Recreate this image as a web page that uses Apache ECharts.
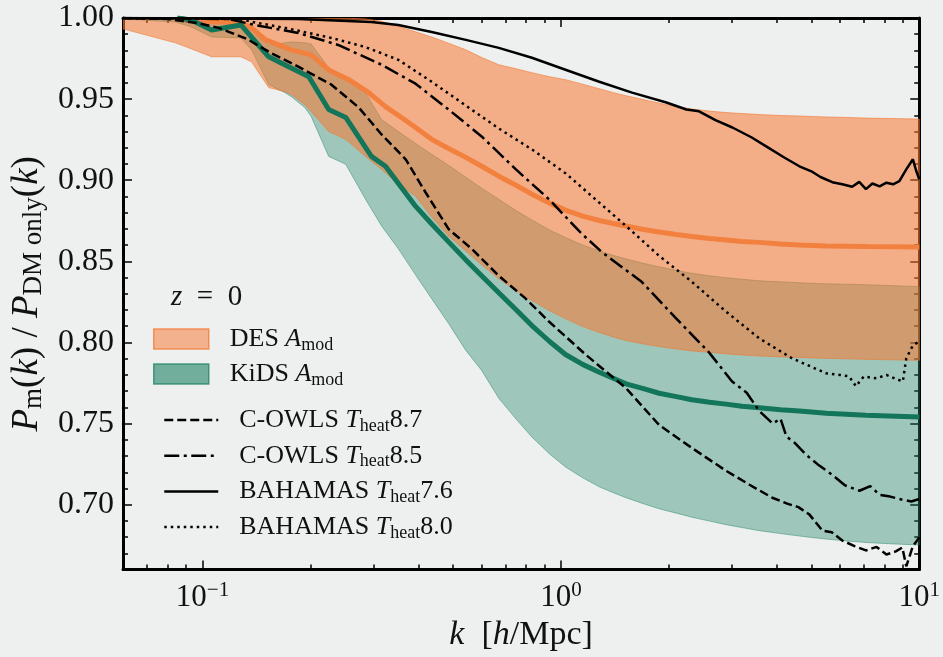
<!DOCTYPE html>
<html>
<head>
<meta charset="utf-8">
<script src="https://cdn.jsdelivr.net/npm/echarts@6/dist/echarts.min.js"></script>
<style>
html, body { margin: 0; padding: 0; background: #eef0ef; }
#chart { width: 943px; height: 657px; }
</style>
</head>
<body>
<div id="chart"></div>
<script>
// k grid shared by the two emulator bands
var kBand = [0.06, 0.084, 0.093, 0.106, 0.128, 0.137, 0.153, 0.17, 0.177, 0.193, 0.201, 0.225, 0.251,
  0.285, 0.316, 0.352, 0.393, 0.436, 0.486, 0.543, 0.601,
  0.671, 0.75, 0.83, 0.93, 1.03, 1.15, 1.28, 1.4, 1.52, 1.7, 1.88, 2.1, 2.32, 2.6, 2.89, 3.2, 3.58,
  4.1, 4.63, 5.0, 5.5, 6.3, 7.1, 8.5, 10];
var desHi = [1.0, 1.0, 1.0, 1.0, 1.0, 1.0, 1.0, 1.0, 1.0, 1.0, 1.0, 1.0, 1.0,
  0.9994, 0.998, 0.9948, 0.9915, 0.9883, 0.9845, 0.9804, 0.9757,
  0.9712, 0.9687, 0.9663, 0.9638, 0.962, 0.9592, 0.9564, 0.954, 0.9521, 0.9497, 0.9475, 0.9454, 0.9439,
  0.9426, 0.9417, 0.9411, 0.9405, 0.9399, 0.9396, 0.9393, 0.939, 0.9387, 0.9383, 0.938, 0.9377];
var desLo = [0.9933, 0.9847, 0.981, 0.9761, 0.9761, 0.973, 0.9571, 0.9546, 0.9528, 0.9466, 0.9423, 0.930, 0.9252,
  0.9147, 0.9067, 0.8975, 0.8902, 0.8773, 0.8656, 0.8564, 0.8479,
  0.8393, 0.832, 0.8258, 0.8196, 0.8147, 0.8098, 0.8061, 0.8034, 0.8012, 0.7991, 0.7975, 0.796, 0.7948,
  0.7939, 0.793, 0.7923, 0.7917, 0.7911, 0.7908, 0.7905, 0.7902, 0.7899, 0.7896, 0.7893, 0.789];
var kidsHi = [1.0, 1.0, 0.9988, 0.9982, 0.9975, 0.9926, 0.9834, 0.9847, 0.9853, 0.9847, 0.984, 0.9693, 0.9632,
  0.954, 0.9374, 0.93, 0.9227, 0.916, 0.9092, 0.9018, 0.8951,
  0.8883, 0.8813, 0.8755, 0.8693, 0.8647, 0.8601, 0.8564, 0.8537, 0.8515, 0.8488, 0.8466, 0.8445, 0.8426,
  0.8411, 0.8399, 0.839, 0.838, 0.8374, 0.8368, 0.8365, 0.8362, 0.8359, 0.8356, 0.835, 0.8344];
var kidsLo = [0.9994, 0.9975, 0.9945, 0.9883, 0.9877, 0.9804, 0.9589, 0.954, 0.9515, 0.9448, 0.9393, 0.9147, 0.9098,
  0.8883, 0.8718, 0.8577, 0.8417, 0.827, 0.8117, 0.7951, 0.7828,
  0.7656, 0.7528, 0.7417, 0.7313, 0.7233, 0.7166, 0.711, 0.7074, 0.7043, 0.7006, 0.6975, 0.6948, 0.6923,
  0.6899, 0.6877, 0.6859, 0.684, 0.6822, 0.6807, 0.6798, 0.6788, 0.6776, 0.6767, 0.6758, 0.6752];

// band means
var kDesMean = [0.085, 0.093, 0.128, 0.137, 0.15, 0.177, 0.201, 0.225, 0.256, 0.291, 0.324, 0.359,
  0.393, 0.436, 0.486, 0.543, 0.601, 0.671, 0.75, 0.83, 0.93, 1.03, 1.15, 1.28, 1.4, 1.52, 1.7, 1.88,
  2.1, 2.32, 2.6, 2.89, 3.2, 3.58, 4.1, 4.63, 5.5, 7.1, 10];
var desMean = [1.0, 0.9985, 0.997, 0.9939, 0.9865, 0.9804, 0.9773, 0.968, 0.962, 0.954, 0.9454, 0.9387,
  0.9325, 0.9252, 0.9196, 0.9141, 0.9086, 0.9025, 0.8969, 0.8914, 0.8859, 0.8816, 0.8779, 0.8752, 0.8733,
  0.8718, 0.8696, 0.8681, 0.8666, 0.8653, 0.8641, 0.8632, 0.8623, 0.8617, 0.8607, 0.8601, 0.8595, 0.8592, 0.8589];
var kKidsMean = [0.085, 0.093, 0.106, 0.128, 0.153, 0.174, 0.198, 0.225, 0.251, 0.296, 0.324, 0.393,
  0.436, 0.486, 0.543, 0.601, 0.671, 0.75, 0.83, 0.93, 1.03, 1.15, 1.28, 1.4, 1.52, 1.7, 1.88, 2.1, 2.32,
  2.6, 2.89, 3.2, 3.58, 4.1, 4.63, 5.5, 7.1, 10];
var kidsMean = [1.0, 0.9988, 0.9926, 0.9957, 0.9761, 0.970, 0.9638, 0.9436, 0.9387, 0.9147, 0.9086, 0.884,
  0.873, 0.862, 0.8509, 0.8411, 0.8307, 0.8202, 0.8104, 0.8006, 0.7926, 0.7865, 0.7816, 0.7779, 0.7745,
  0.7715, 0.7687, 0.7666, 0.7647, 0.7632, 0.762, 0.7607, 0.7598, 0.7586, 0.7577, 0.7564, 0.7552, 0.754];

// simulations
var kCowls87 = [0.06, 0.08, 0.097, 0.111, 0.133, 0.155, 0.185, 0.229, 0.273, 0.316, 0.369, 0.419, 0.486, 0.564,
  0.671, 0.798, 0.926, 1.18, 1.52, 1.88, 2.32, 2.89, 3.36, 3.89, 4.3, 4.6, 4.94, 5.37, 5.7, 6.1, 6.6, 7.1,
  7.6, 8.1, 8.6, 8.97, 9.2, 9.6, 10];
var cowls87 = [1.0, 0.9994, 0.9969, 0.9939, 0.9871, 0.9785, 0.970, 0.9589, 0.9448, 0.9282, 0.9129, 0.8926, 0.8699,
  0.8577, 0.8411, 0.827, 0.8129, 0.792, 0.7718, 0.7491, 0.735, 0.7209, 0.7123, 0.7043, 0.7005, 0.6985, 0.6939,
  0.684, 0.6830, 0.6779, 0.6745, 0.6718, 0.6740, 0.6693, 0.6712, 0.6736, 0.6620, 0.6745, 0.6798];
var kCowls85 = [0.06, 0.118, 0.14, 0.185, 0.239, 0.316, 0.393, 0.486, 0.601, 0.749, 0.926, 1.145, 1.3, 1.68,
  2.1, 2.59, 3.0, 3.3, 3.58, 3.9, 4.1, 4.26, 4.5, 4.84, 5.2, 5.72, 6.2, 6.81, 7.3, 7.75, 8.3, 8.97, 9.5, 10];
var cowls85 = [1.0, 0.9994, 0.9957, 0.9908, 0.9834, 0.9712, 0.9595, 0.9436, 0.927, 0.9067, 0.8883, 0.8669, 0.8558,
  0.8374, 0.8147, 0.7939, 0.7761, 0.7690, 0.7577, 0.7500, 0.7530, 0.7420, 0.7380, 0.7307, 0.7250, 0.7184,
  0.7120, 0.7086, 0.7115, 0.7061, 0.7050, 0.7031, 0.7020, 0.7035];
var kBah76 = [0.06, 0.185, 0.296, 0.352, 0.436, 0.543, 0.671, 0.83, 1.03, 1.28, 1.58, 1.97, 2.24, 2.43, 2.7, 3.01,
  3.4, 3.74, 4.2, 4.63, 5.0, 5.3, 5.72, 6.1, 6.5, 6.8, 7.1, 7.4, 7.75, 8.1, 8.45, 8.8, 9.2, 9.6, 9.8, 10];
var bah76 = [1.0, 0.9994, 0.9975, 0.9957, 0.9914, 0.9865, 0.9816, 0.9755, 0.9681, 0.9607, 0.954, 0.9479, 0.9436,
  0.9425, 0.937, 0.9325, 0.9265, 0.9209, 0.9140, 0.9086, 0.9055, 0.9020, 0.8988, 0.8975, 0.8960, 0.8990, 0.8945,
  0.8980, 0.8962, 0.8985, 0.8975, 0.8995, 0.9067, 0.9129, 0.9060, 0.9006];
var kBah80 = [0.06, 0.126, 0.143, 0.17, 0.229, 0.284, 0.352, 0.436, 0.543, 0.671, 0.83, 1.03, 1.22, 1.52, 1.88,
  2.32, 2.89, 3.58, 4.42, 5.5, 6.0, 6.37, 6.66, 7.0, 7.6, 8.1, 8.66, 9.0, 9.2, 9.6, 10];
var bah80 = [1.0, 0.9994, 0.9969, 0.9939, 0.9877, 0.9822, 0.9742, 0.9607, 0.946, 0.9319, 0.919, 0.9043, 0.8902,
  0.8718, 0.8534, 0.8374, 0.819, 0.8025, 0.7902, 0.781, 0.7800, 0.7791, 0.7730, 0.7790, 0.7779, 0.7800, 0.7773,
  0.7760, 0.7902, 0.7982, 0.8006];

// ticks
var xMajorTicks = [0.1, 1, 10];
var xMinorTicks = [0.06, 0.07, 0.08, 0.09, 0.2, 0.3, 0.4, 0.5, 0.6, 0.7, 0.8, 0.9, 2, 3, 4, 5, 6, 7, 8, 9];
var yMajorTicks = [0.70, 0.75, 0.80, 0.85, 0.90, 0.95, 1.00];
var yMinorTicks = [0.66, 0.67, 0.68, 0.69, 0.71, 0.72, 0.73, 0.74, 0.76, 0.77, 0.78, 0.79, 0.81, 0.82, 0.83,
  0.84, 0.86, 0.87, 0.88, 0.89, 0.91, 0.92, 0.93, 0.94, 0.96, 0.97, 0.98, 0.99];

var serif = 'Liberation Serif';
var ink = '#111';
var chart = echarts.init(document.getElementById('chart'));

function pairs(ks, ys) {
  return ks.map(function (k, i) { return [k, ys[i]]; });
}

// filled band between lo and hi, one polygon
function band(name, lo, hi, fill, edge) {
  return {
    name: name,
    type: 'custom',
    coordinateSystem: 'cartesian2d',
    data: kBand.map(function (k, i) { return [k, lo[i], hi[i]]; }),
    encode: { x: 0, y: [1, 2] },
    clip: true,
    silent: true,
    renderItem: function (params, api) {
      if (params.dataIndex !== 0) return null;
      var pts = [];
      for (var i = 0; i < kBand.length; i++) pts.push(api.coord([kBand[i], hi[i]]));
      for (var j = kBand.length - 1; j >= 0; j--) pts.push(api.coord([kBand[j], lo[j]]));
      return {
        type: 'polygon',
        shape: { points: pts },
        style: { fill: fill, stroke: edge, lineWidth: 1 }
      };
    }
  };
}

function simLine(name, ks, ys, dash) {
  return {
    name: name, type: 'line', data: pairs(ks, ys), symbol: 'none',
    lineStyle: { color: '#000', width: 2.5, type: dash, cap: 'butt' },
    itemStyle: { color: '#000' }, z: 4
  };
}

function powLabel(v) {
  var e = Math.round(Math.log10(v));
  return '{b|10}{s|' + (e < 0 ? '\u2212' + (-e) : e) + '}';
}

var tickStyle = { color: '#000', width: 1.5 };
var spine = { show: true, onZero: false, lineStyle: { color: '#000', width: 3 } };

// one axis carrying only a set of ticks
function tickAxis(kind, pos, ticks, len, withLine) {
  var ax = {
    type: kind, position: pos,
    axisLine: withLine ? spine : { show: false, onZero: false },
    axisTick: { show: true, inside: true, length: len, customValues: ticks, lineStyle: tickStyle },
    axisLabel: { show: false }, splitLine: { show: false }
  };
  if (kind === 'log') { ax.logBase = 10; ax.min = 0.06; ax.max = 10; }
  else { ax.min = 0.66; ax.max = 1.0; }
  return ax;
}

var richLegend = {
  sp: { width: 16 },
  n: { fontFamily: serif, fontSize: 26, lineHeight: 30, color: ink },
  i: { fontFamily: serif, fontStyle: 'italic', fontSize: 26, lineHeight: 30, color: ink },
  s: { fontFamily: serif, fontSize: 18, lineHeight: 15, verticalAlign: 'bottom', color: ink }
};

var xMain = tickAxis('log', 'bottom', xMajorTicks, 9, true);
xMain.axisLabel = {
  show: true, margin: 10, customValues: xMajorTicks, formatter: powLabel,
  rich: {
    b: { fontFamily: serif, fontSize: 31, lineHeight: 36, color: ink },
    s: { fontFamily: serif, fontSize: 21, lineHeight: 16, verticalAlign: 'top', color: ink }
  }
};
xMain.name = '{i|k}{n|  [}{i|h}{n|/Mpc]}';
xMain.nameLocation = 'middle';
xMain.nameGap = 42;
xMain.nameTextStyle = {
  rich: {
    n: { fontFamily: serif, fontSize: 34, lineHeight: 38, color: ink },
    i: { fontFamily: serif, fontStyle: 'italic', fontSize: 34, lineHeight: 38, color: ink }
  }
};

var yMain = tickAxis('value', 'left', yMajorTicks, 9, true);
yMain.axisLabel = {
  show: true, margin: 9, customValues: yMajorTicks, color: ink, fontFamily: serif, fontSize: 32,
  formatter: function (v) { return v.toFixed(2); }
};
yMain.name = '{i|P}{s|m}{n|(}{i|k}{n|) / }{i|P}{s|DM only}{n|(}{i|k}{n|)}';
yMain.nameLocation = 'middle';
yMain.nameRotate = 90;
yMain.nameGap = 66;
yMain.nameTextStyle = {
  rich: {
    n: { fontFamily: serif, fontSize: 37, lineHeight: 40, color: ink },
    i: { fontFamily: serif, fontStyle: 'italic', fontSize: 37, lineHeight: 40, color: ink },
    s: { fontFamily: serif, fontSize: 27, lineHeight: 20, verticalAlign: 'bottom', color: ink }
  }
};

var option = {
  backgroundColor: '#eef0ef',
  animation: false,
  textStyle: { fontFamily: serif },
  title: {
    text: '{i|z}\u2002=\u20020', left: 166, top: 278,
    textStyle: {
      fontFamily: serif, fontSize: 29, fontWeight: 'normal', color: ink,
      rich: { i: { fontFamily: serif, fontStyle: 'italic', fontSize: 29, color: ink } }
    }
  },
  grid: { left: 123, right: 23, top: 18, bottom: 85 },
  legend: [
    {
      orient: 'vertical', left: 153, top: 326, padding: 0, itemGap: 7, itemWidth: 55, itemHeight: 20,
      selectedMode: false,
      data: [
        { name: 'DES', icon: 'rect', itemStyle: { color: 'rgba(250,125,60,0.55)', borderColor: 'rgba(242,125,60,0.8)', borderWidth: 1.5 } },
        { name: 'KiDS', icon: 'rect', itemStyle: { color: 'rgba(30,130,100,0.6)', borderColor: 'rgba(30,130,100,0.75)', borderWidth: 1.5 } }
      ],
      formatter: function (n) { return '{sp|}{n|' + n + ' }{i|A}{s|mod}'; },
      textStyle: { rich: richLegend }
    },
    {
      orient: 'vertical', left: 163, top: 407, padding: 0, itemGap: 7.7, itemWidth: 54, itemHeight: 14,
      selectedMode: false,
      lineStyle: { width: 2.5 },
      data: ['C-OWLS 8.7', 'C-OWLS 8.5', 'BAHAMAS 7.6', 'BAHAMAS 8.0'].map(function (n) {
        return { name: n, itemStyle: { opacity: 0 } };
      }),
      formatter: function (n) {
        var p = n.split(' ');
        return '{sp|}{n|' + p[0] + ' }{i|T}{s|heat}{n|' + p[1] + '}';
      },
      textStyle: { rich: richLegend }
    }
  ],
  xAxis: [
    xMain,
    tickAxis('log', 'bottom', xMinorTicks, 5, false),
    tickAxis('log', 'top', xMajorTicks, 9, true),
    tickAxis('log', 'top', xMinorTicks, 5, false)
  ],
  yAxis: [
    yMain,
    tickAxis('value', 'left', yMinorTicks, 5, false),
    tickAxis('value', 'right', yMajorTicks, 9, true),
    tickAxis('value', 'right', yMinorTicks, 5, false)
  ],
  series: [
    band('KiDS', kidsLo, kidsHi, 'rgba(30,130,100,0.38)', 'rgba(30,130,100,0.45)'),
    band('DES', desLo, desHi, 'rgba(250,120,50,0.55)', 'rgba(240,120,50,0.6)'),
    {
      name: 'DES mean', type: 'line', data: pairs(kDesMean, desMean), symbol: 'none',
      lineStyle: { color: '#f2803f', width: 5 }, z: 3
    },
    {
      name: 'KiDS mean', type: 'line', data: pairs(kKidsMean, kidsMean), symbol: 'none',
      lineStyle: { color: '#13755a', width: 5 }, z: 3
    },
    simLine('C-OWLS 8.7', kCowls87, cowls87, [9, 4]),
    simLine('C-OWLS 8.5', kCowls85, cowls85, [15, 4.5, 3, 4.5]),
    simLine('BAHAMAS 7.6', kBah76, bah76, 'solid'),
    simLine('BAHAMAS 8.0', kBah80, bah80, [2.5, 4])
  ]
};

chart.setOption(option);
</script>
</body>
</html>
